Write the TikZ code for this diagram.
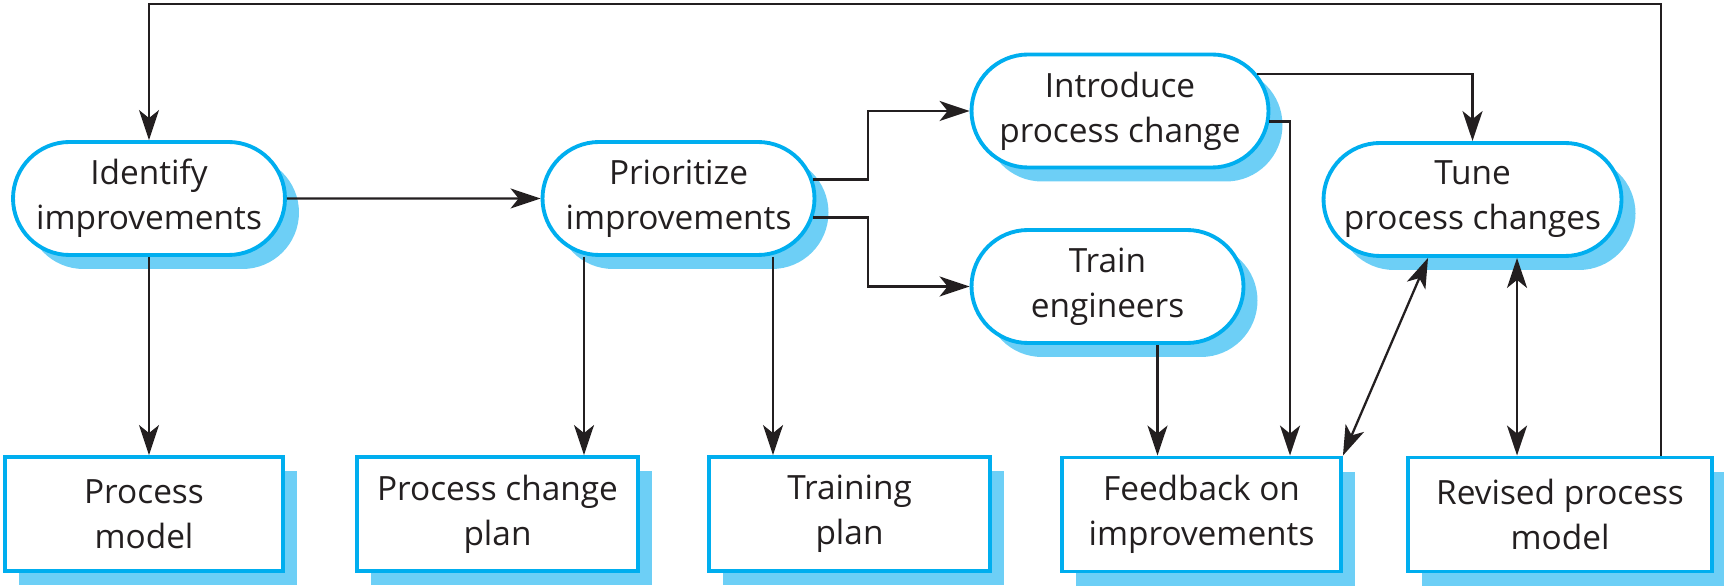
\documentclass[tikz,border=0pt]{standalone}
\usepackage{fontspec}
\setmainfont{Open Sans}
\usetikzlibrary{shapes.misc,shadows,arrows.meta}
\definecolor{procblue}{HTML}{00AEEF}
\definecolor{shadeblue}{HTML}{6DCFF6}
\definecolor{inkblack}{HTML}{231F20}
\tikzset{
  activity/.style={rounded rectangle, draw=procblue, line width=1.1pt, fill=white,
    minimum height=1.13cm, inner sep=1pt, align=center, text=inkblack,
    font=\fontsize{9.5}{12.8}\selectfont,
    drop shadow={shadow xshift=0.14cm, shadow yshift=-0.14cm, fill=shadeblue, opacity=1}},
  product/.style={rectangle, draw=procblue, line width=1.1pt, fill=white,
    minimum height=1.14cm, inner sep=1pt, align=center, text=inkblack,
    font=\fontsize{9.5}{12.8}\selectfont,
    drop shadow={shadow xshift=0.14cm, shadow yshift=-0.14cm, fill=shadeblue, opacity=1}},
  flow/.style={draw=inkblack, line width=0.65pt, -{Stealth[length=3mm,width=2mm,inset=0.8mm]}},
  twoway/.style={flow, {Stealth[length=3mm,width=2mm,inset=0.8mm]}-{Stealth[length=3mm,width=2mm,inset=0.8mm]}}
}
\begin{document}
\begin{tikzpicture}
  \useasboundingbox (0,0) rectangle (17.24,5.86);
  %% activities
  \node[activity, minimum width=2.79cm] (identify) at (1.49,3.875) {Identify\\improvements};
  \node[activity, minimum width=2.79cm] (prioritize) at (6.785,3.875) {Prioritize\\improvements};
  \node[activity, minimum width=3.04cm] (introduce) at (11.20,4.75) {Introduce\\process change};
  \node[activity, minimum width=2.79cm] (train) at (11.075,2.995) {Train\\engineers};
  \node[activity, minimum width=3.05cm] (tune) at (14.725,3.865) {Tune\\process changes};
  %% products
  \node[product, minimum width=2.78cm] (model) at (1.44,0.72) {Process\\model};
  \node[product, minimum width=2.81cm] (changeplan) at (4.975,0.72) {Process change\\plan};
  \node[product, minimum width=2.81cm] (trainplan) at (8.495,0.72) {Training\\plan};
  \node[product, minimum width=2.79cm] (feedback) at (12.015,0.715) {Feedback on\\improvements};
  \node[product, minimum width=3.04cm] (revised) at (15.60,0.715) {Revised process\\model};
  \coordinate (split) at (8.68,3.875);
  \coordinate (top) at (0,5.82);
  %% connectors
  \draw[flow] (identify) -- (prioritize);
  \draw[flow] (identify.south) -- (identify.south |- model.north);
  \draw[flow] (prioritize.8) -- (prioritize.8 -| split) |- (introduce.west);
  \draw[flow] (prioritize.-8) -- (prioritize.-8 -| split) |- (train.west);
  \draw[flow] ([xshift=-9.45mm]prioritize.south) -- ([xshift=-9.45mm]prioritize.south |- changeplan.north);
  \draw[flow] ([xshift=9.45mm]prioritize.south) -- ([xshift=9.45mm]prioritize.south |- trainplan.north);
  \draw[flow] ([xshift=5mm]train.south) -- ([xshift=5mm]train.south |- feedback.north);
  \draw[flow] (introduce.-4.5) -| ([xshift=8.85mm]feedback.north);
  \draw[flow] (introduce.15) -| (tune.north);
  \draw[twoway] ([xshift=-4.45mm]tune.south) -- (feedback.north east);
  \draw[twoway] ([xshift=4.45mm]tune.south) -- ([xshift=4.45mm]tune.south |- revised.north);
  %% back to the start
  \draw[flow] ([xshift=10.1mm]revised.north) |- (top -| identify.north) -- (identify.north);
\end{tikzpicture}
\end{document}
